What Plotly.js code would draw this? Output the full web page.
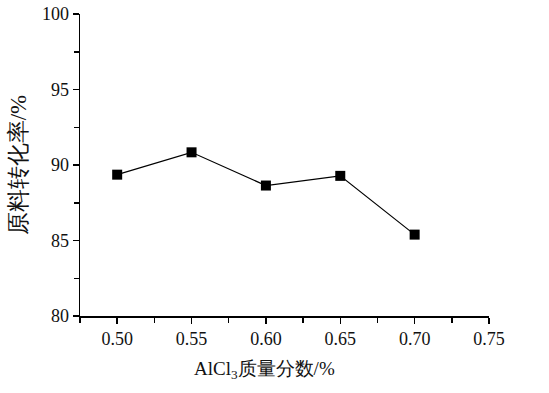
<!DOCTYPE html>
<html><head><meta charset="utf-8">
<script src="https://cdn.plot.ly/plotly-3.0.1.min.js"></script>
<style>html,body{margin:0;padding:0;background:#fff;}</style>
</head><body>
<div id="chart" style="width:549px;height:393px;"></div>
<script>
var alcl3Fraction = [0.50, 0.55, 0.60, 0.65, 0.70];
var conversionRate = [89.36, 90.84, 88.64, 89.28, 85.39];
var xTickVals = [0.50, 0.55, 0.60, 0.65, 0.70, 0.75];
var xTickText = ['0.50', '0.55', '0.60', '0.65', '0.70', '0.75'];
var yTickVals = [80, 85, 90, 95, 100];
var xTitle = 'AlCl<sub>3</sub>质量分数/%';
var yTitle = '原料转化率/%';

var font = '"Liberation Serif", serif';
var trace = {
  x: alcl3Fraction, y: conversionRate, type: 'scatter', mode: 'lines+markers',
  line: {color: '#000', width: 1.2},
  marker: {symbol: 'square', size: 10, color: '#000'}
};
var layout = {
  width: 549, height: 393,
  margin: {l: 80, r: 60, t: 14, b: 77},
  paper_bgcolor: '#fff', plot_bgcolor: '#fff',
  showlegend: false,
  font: {family: font, color: '#111', size: 18},
  xaxis: {
    range: [0.475, 0.75], tickvals: xTickVals, ticktext: xTickText,
    showgrid: false, zeroline: false, showline: true, linecolor: '#000', linewidth: 1.5,
    ticks: 'outside', ticklen: 6, tickwidth: 1.5, tickcolor: '#000',
    minor: {dtick: 0.05, tick0: 0.525, ticks: 'outside', ticklen: 5, tickwidth: 1.5, tickcolor: '#000'},
    tickfont: {family: font, size: 18}
  },
  yaxis: {
    range: [80, 100], tickvals: yTickVals,
    showgrid: false, zeroline: false, showline: true, linecolor: '#000', linewidth: 1.5,
    ticks: 'outside', ticklen: 6, tickwidth: 1.5, tickcolor: '#000',
    minor: {dtick: 5, tick0: 82.5, ticks: 'outside', ticklen: 5, tickwidth: 1.5, tickcolor: '#000'},
    tickfont: {family: font, size: 18},
    title: {text: yTitle, font: {family: font, size: 23}, standoff: 9}
  },
  annotations: [{
    text: xTitle, xref: 'paper', yref: 'paper', x: 0.452, y: -0.18,
    xanchor: 'center', yanchor: 'middle', showarrow: false,
    font: {family: font, size: 19, color: '#111'}
  }]
};
Plotly.newPlot('chart', [trace], layout, {displayModeBar: false, staticPlot: true});
</script>
</body></html>
